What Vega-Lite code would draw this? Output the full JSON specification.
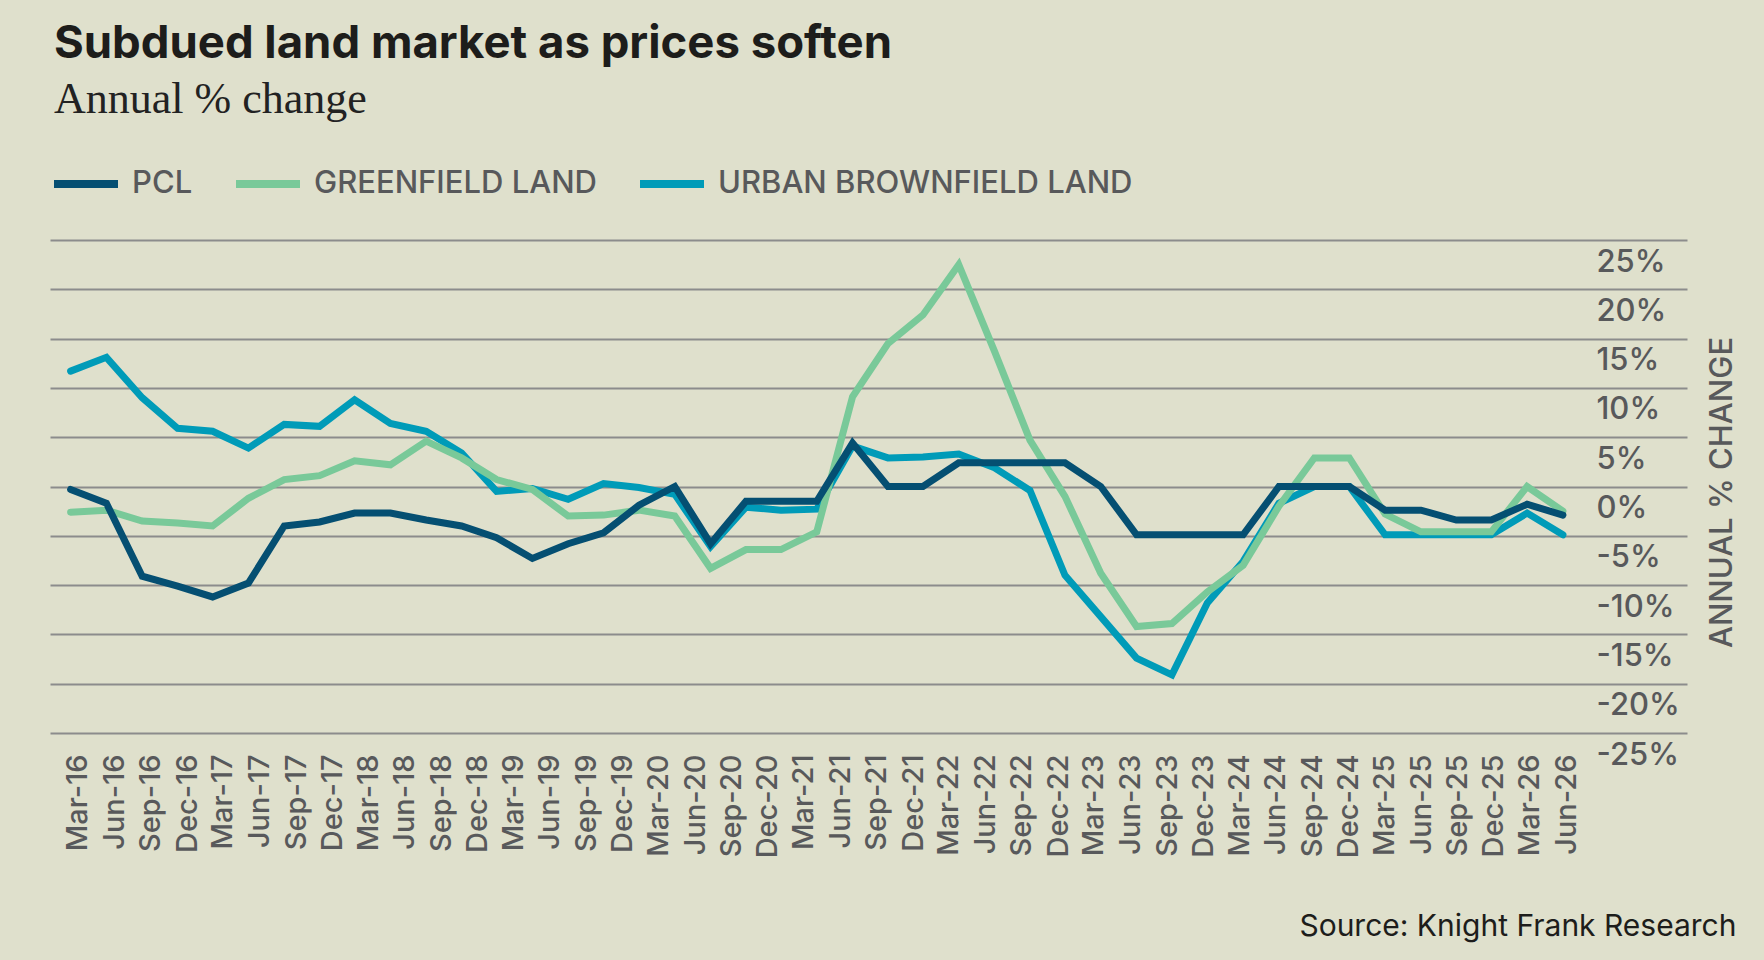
{
  "$schema": "https://vega.github.io/schema/vega-lite/v6.json",
  "background": "#dfe0cc",
  "autosize": {"type": "none"},
  "width": 1637,
  "height": 493,
  "padding": {"left": 50, "top": 240, "right": 77, "bottom": 227},
  "title": {
    "text": "Subdued land market as prices soften",
    "subtitle": "Annual % change",
    "anchor": "start",
    "frame": "group",
    "font": "Inter",
    "fontSize": 45.5,
    "fontWeight": 700,
    "color": "#1d1d1b",
    "subtitleFont": "Liberation Serif",
    "subtitleFontSize": 44,
    "subtitleColor": "#222222",
    "subtitlePadding": 11,
    "offset": 26,
    "dx": 4
  },
  "datasets": {
    "labels": [
      {"d": "2016-03-01"}, {"d": "2016-06-01"}, {"d": "2016-09-01"}, {"d": "2016-12-01"},
      {"d": "2017-03-01"}, {"d": "2017-06-01"}, {"d": "2017-09-01"}, {"d": "2017-12-01"},
      {"d": "2018-03-01"}, {"d": "2018-06-01"}, {"d": "2018-09-01"}, {"d": "2018-12-01"},
      {"d": "2019-03-01"}, {"d": "2019-06-01"}, {"d": "2019-09-01"}, {"d": "2019-12-01"},
      {"d": "2020-03-01"}, {"d": "2020-06-01"}, {"d": "2020-09-01"}, {"d": "2020-12-01"},
      {"d": "2021-03-01"}, {"d": "2021-06-01"}, {"d": "2021-09-01"}, {"d": "2021-12-01"},
      {"d": "2022-03-01"}, {"d": "2022-06-01"}, {"d": "2022-09-01"}, {"d": "2022-12-01"},
      {"d": "2023-03-01"}, {"d": "2023-06-01"}, {"d": "2023-09-01"}, {"d": "2023-12-01"},
      {"d": "2024-03-01"}, {"d": "2024-06-01"}, {"d": "2024-09-01"}, {"d": "2024-12-01"},
      {"d": "2025-03-01"}, {"d": "2025-06-01"}, {"d": "2025-09-01"}, {"d": "2025-12-01"},
      {"d": "2026-03-01"}, {"d": "2026-06-01"}
    ],
    "series": [
      {"q": "2016-03-01", "s": "URBAN BROWNFIELD LAND", "v": 11.7},
      {"q": "2016-06-01", "s": "URBAN BROWNFIELD LAND", "v": 13.1},
      {"q": "2016-09-01", "s": "URBAN BROWNFIELD LAND", "v": 9.0},
      {"q": "2016-12-01", "s": "URBAN BROWNFIELD LAND", "v": 5.9},
      {"q": "2017-03-01", "s": "URBAN BROWNFIELD LAND", "v": 5.6},
      {"q": "2017-06-01", "s": "URBAN BROWNFIELD LAND", "v": 3.9},
      {"q": "2017-09-01", "s": "URBAN BROWNFIELD LAND", "v": 6.3},
      {"q": "2017-12-01", "s": "URBAN BROWNFIELD LAND", "v": 6.1},
      {"q": "2018-03-01", "s": "URBAN BROWNFIELD LAND", "v": 8.8},
      {"q": "2018-06-01", "s": "URBAN BROWNFIELD LAND", "v": 6.4},
      {"q": "2018-09-01", "s": "URBAN BROWNFIELD LAND", "v": 5.6},
      {"q": "2018-12-01", "s": "URBAN BROWNFIELD LAND", "v": 3.4},
      {"q": "2019-03-01", "s": "URBAN BROWNFIELD LAND", "v": -0.5},
      {"q": "2019-06-01", "s": "URBAN BROWNFIELD LAND", "v": -0.2},
      {"q": "2019-09-01", "s": "URBAN BROWNFIELD LAND", "v": -1.3},
      {"q": "2019-12-01", "s": "URBAN BROWNFIELD LAND", "v": 0.3},
      {"q": "2020-03-01", "s": "URBAN BROWNFIELD LAND", "v": -0.1},
      {"q": "2020-06-01", "s": "URBAN BROWNFIELD LAND", "v": -0.8},
      {"q": "2020-09-01", "s": "URBAN BROWNFIELD LAND", "v": -6.1},
      {"q": "2020-12-01", "s": "URBAN BROWNFIELD LAND", "v": -2.1},
      {"q": "2021-03-01", "s": "URBAN BROWNFIELD LAND", "v": -2.4},
      {"q": "2021-06-01", "s": "URBAN BROWNFIELD LAND", "v": -2.3},
      {"q": "2021-09-01", "s": "URBAN BROWNFIELD LAND", "v": 4.1},
      {"q": "2021-12-01", "s": "URBAN BROWNFIELD LAND", "v": 2.9},
      {"q": "2022-03-01", "s": "URBAN BROWNFIELD LAND", "v": 3.0},
      {"q": "2022-06-01", "s": "URBAN BROWNFIELD LAND", "v": 3.3},
      {"q": "2022-09-01", "s": "URBAN BROWNFIELD LAND", "v": 1.9},
      {"q": "2022-12-01", "s": "URBAN BROWNFIELD LAND", "v": -0.4},
      {"q": "2023-03-01", "s": "URBAN BROWNFIELD LAND", "v": -9.0},
      {"q": "2023-06-01", "s": "URBAN BROWNFIELD LAND", "v": -13.2},
      {"q": "2023-09-01", "s": "URBAN BROWNFIELD LAND", "v": -17.4},
      {"q": "2023-12-01", "s": "URBAN BROWNFIELD LAND", "v": -19.1},
      {"q": "2024-03-01", "s": "URBAN BROWNFIELD LAND", "v": -11.8},
      {"q": "2024-06-01", "s": "URBAN BROWNFIELD LAND", "v": -7.6},
      {"q": "2024-09-01", "s": "URBAN BROWNFIELD LAND", "v": -1.7},
      {"q": "2024-12-01", "s": "URBAN BROWNFIELD LAND", "v": 0.0},
      {"q": "2025-03-01", "s": "URBAN BROWNFIELD LAND", "v": 0.0},
      {"q": "2025-06-01", "s": "URBAN BROWNFIELD LAND", "v": -4.9},
      {"q": "2025-09-01", "s": "URBAN BROWNFIELD LAND", "v": -4.9},
      {"q": "2025-12-01", "s": "URBAN BROWNFIELD LAND", "v": -4.9},
      {"q": "2026-03-01", "s": "URBAN BROWNFIELD LAND", "v": -4.9},
      {"q": "2026-06-01", "s": "URBAN BROWNFIELD LAND", "v": -2.7},
      {"q": "2026-09-01", "s": "URBAN BROWNFIELD LAND", "v": -4.9},
      {"q": "2016-03-01", "s": "GREENFIELD LAND", "v": -2.6},
      {"q": "2016-06-01", "s": "GREENFIELD LAND", "v": -2.4},
      {"q": "2016-09-01", "s": "GREENFIELD LAND", "v": -3.5},
      {"q": "2016-12-01", "s": "GREENFIELD LAND", "v": -3.7},
      {"q": "2017-03-01", "s": "GREENFIELD LAND", "v": -4.0},
      {"q": "2017-06-01", "s": "GREENFIELD LAND", "v": -1.2},
      {"q": "2017-09-01", "s": "GREENFIELD LAND", "v": 0.7},
      {"q": "2017-12-01", "s": "GREENFIELD LAND", "v": 1.1},
      {"q": "2018-03-01", "s": "GREENFIELD LAND", "v": 2.6},
      {"q": "2018-06-01", "s": "GREENFIELD LAND", "v": 2.2},
      {"q": "2018-09-01", "s": "GREENFIELD LAND", "v": 4.6},
      {"q": "2018-12-01", "s": "GREENFIELD LAND", "v": 2.9},
      {"q": "2019-03-01", "s": "GREENFIELD LAND", "v": 0.7},
      {"q": "2019-06-01", "s": "GREENFIELD LAND", "v": -0.3},
      {"q": "2019-09-01", "s": "GREENFIELD LAND", "v": -3.0},
      {"q": "2019-12-01", "s": "GREENFIELD LAND", "v": -2.9},
      {"q": "2020-03-01", "s": "GREENFIELD LAND", "v": -2.4},
      {"q": "2020-06-01", "s": "GREENFIELD LAND", "v": -3.0},
      {"q": "2020-09-01", "s": "GREENFIELD LAND", "v": -8.3},
      {"q": "2020-12-01", "s": "GREENFIELD LAND", "v": -6.4},
      {"q": "2021-03-01", "s": "GREENFIELD LAND", "v": -6.4},
      {"q": "2021-06-01", "s": "GREENFIELD LAND", "v": -4.6},
      {"q": "2021-09-01", "s": "GREENFIELD LAND", "v": 9.1},
      {"q": "2021-12-01", "s": "GREENFIELD LAND", "v": 14.5},
      {"q": "2022-03-01", "s": "GREENFIELD LAND", "v": 17.4},
      {"q": "2022-06-01", "s": "GREENFIELD LAND", "v": 22.5},
      {"q": "2022-09-01", "s": "GREENFIELD LAND", "v": 13.7},
      {"q": "2022-12-01", "s": "GREENFIELD LAND", "v": 4.7},
      {"q": "2023-03-01", "s": "GREENFIELD LAND", "v": -1.0},
      {"q": "2023-06-01", "s": "GREENFIELD LAND", "v": -8.8},
      {"q": "2023-09-01", "s": "GREENFIELD LAND", "v": -14.2},
      {"q": "2023-12-01", "s": "GREENFIELD LAND", "v": -13.9},
      {"q": "2024-03-01", "s": "GREENFIELD LAND", "v": -10.7},
      {"q": "2024-06-01", "s": "GREENFIELD LAND", "v": -8.0},
      {"q": "2024-09-01", "s": "GREENFIELD LAND", "v": -2.0},
      {"q": "2024-12-01", "s": "GREENFIELD LAND", "v": 2.9},
      {"q": "2025-03-01", "s": "GREENFIELD LAND", "v": 2.9},
      {"q": "2025-06-01", "s": "GREENFIELD LAND", "v": -2.8},
      {"q": "2025-09-01", "s": "GREENFIELD LAND", "v": -4.6},
      {"q": "2025-12-01", "s": "GREENFIELD LAND", "v": -4.6},
      {"q": "2026-03-01", "s": "GREENFIELD LAND", "v": -4.6},
      {"q": "2026-06-01", "s": "GREENFIELD LAND", "v": 0.0},
      {"q": "2026-09-01", "s": "GREENFIELD LAND", "v": -2.5},
      {"q": "2016-03-01", "s": "PCL", "v": -0.3},
      {"q": "2016-06-01", "s": "PCL", "v": -1.7},
      {"q": "2016-09-01", "s": "PCL", "v": -9.1},
      {"q": "2016-12-01", "s": "PCL", "v": -10.1},
      {"q": "2017-03-01", "s": "PCL", "v": -11.2},
      {"q": "2017-06-01", "s": "PCL", "v": -9.8},
      {"q": "2017-09-01", "s": "PCL", "v": -4.0},
      {"q": "2017-12-01", "s": "PCL", "v": -3.6},
      {"q": "2018-03-01", "s": "PCL", "v": -2.7},
      {"q": "2018-06-01", "s": "PCL", "v": -2.7},
      {"q": "2018-09-01", "s": "PCL", "v": -3.4},
      {"q": "2018-12-01", "s": "PCL", "v": -4.0},
      {"q": "2019-03-01", "s": "PCL", "v": -5.2},
      {"q": "2019-06-01", "s": "PCL", "v": -7.3},
      {"q": "2019-09-01", "s": "PCL", "v": -5.8},
      {"q": "2019-12-01", "s": "PCL", "v": -4.7},
      {"q": "2020-03-01", "s": "PCL", "v": -1.9},
      {"q": "2020-06-01", "s": "PCL", "v": 0.0},
      {"q": "2020-09-01", "s": "PCL", "v": -5.8},
      {"q": "2020-12-01", "s": "PCL", "v": -1.5},
      {"q": "2021-03-01", "s": "PCL", "v": -1.5},
      {"q": "2021-06-01", "s": "PCL", "v": -1.5},
      {"q": "2021-09-01", "s": "PCL", "v": 4.4},
      {"q": "2021-12-01", "s": "PCL", "v": 0.0},
      {"q": "2022-03-01", "s": "PCL", "v": 0.0},
      {"q": "2022-06-01", "s": "PCL", "v": 2.4},
      {"q": "2022-09-01", "s": "PCL", "v": 2.4},
      {"q": "2022-12-01", "s": "PCL", "v": 2.4},
      {"q": "2023-03-01", "s": "PCL", "v": 2.4},
      {"q": "2023-06-01", "s": "PCL", "v": 0.0},
      {"q": "2023-09-01", "s": "PCL", "v": -4.9},
      {"q": "2023-12-01", "s": "PCL", "v": -4.9},
      {"q": "2024-03-01", "s": "PCL", "v": -4.9},
      {"q": "2024-06-01", "s": "PCL", "v": -4.9},
      {"q": "2024-09-01", "s": "PCL", "v": 0.0},
      {"q": "2024-12-01", "s": "PCL", "v": 0.0},
      {"q": "2025-03-01", "s": "PCL", "v": 0.0},
      {"q": "2025-06-01", "s": "PCL", "v": -2.4},
      {"q": "2025-09-01", "s": "PCL", "v": -2.4},
      {"q": "2025-12-01", "s": "PCL", "v": -3.4},
      {"q": "2026-03-01", "s": "PCL", "v": -3.4},
      {"q": "2026-06-01", "s": "PCL", "v": -1.8},
      {"q": "2026-09-01", "s": "PCL", "v": -2.9}
    ]
  },
  "layer": [
    {
      "data": {"name": "labels"},
      "mark": {"type": "point", "opacity": 0},
      "encoding": {
        "x": {
          "field": "d",
          "type": "temporal",
          "scale": {
            "type": "utc",
            "domain": [
              {"year": 2015, "month": 12, "date": 22, "utc": true},
              {"year": 2027, "month": 4, "date": 1, "utc": true}
            ]
          },
          "axis": {
            "orient": "bottom",
            "values": [
              {"year": 2016, "month": 3, "date": 1, "utc": true}, {"year": 2016, "month": 6, "date": 1, "utc": true},
              {"year": 2016, "month": 9, "date": 1, "utc": true}, {"year": 2016, "month": 12, "date": 1, "utc": true},
              {"year": 2017, "month": 3, "date": 1, "utc": true}, {"year": 2017, "month": 6, "date": 1, "utc": true},
              {"year": 2017, "month": 9, "date": 1, "utc": true}, {"year": 2017, "month": 12, "date": 1, "utc": true},
              {"year": 2018, "month": 3, "date": 1, "utc": true}, {"year": 2018, "month": 6, "date": 1, "utc": true},
              {"year": 2018, "month": 9, "date": 1, "utc": true}, {"year": 2018, "month": 12, "date": 1, "utc": true},
              {"year": 2019, "month": 3, "date": 1, "utc": true}, {"year": 2019, "month": 6, "date": 1, "utc": true},
              {"year": 2019, "month": 9, "date": 1, "utc": true}, {"year": 2019, "month": 12, "date": 1, "utc": true},
              {"year": 2020, "month": 3, "date": 1, "utc": true}, {"year": 2020, "month": 6, "date": 1, "utc": true},
              {"year": 2020, "month": 9, "date": 1, "utc": true}, {"year": 2020, "month": 12, "date": 1, "utc": true},
              {"year": 2021, "month": 3, "date": 1, "utc": true}, {"year": 2021, "month": 6, "date": 1, "utc": true},
              {"year": 2021, "month": 9, "date": 1, "utc": true}, {"year": 2021, "month": 12, "date": 1, "utc": true},
              {"year": 2022, "month": 3, "date": 1, "utc": true}, {"year": 2022, "month": 6, "date": 1, "utc": true},
              {"year": 2022, "month": 9, "date": 1, "utc": true}, {"year": 2022, "month": 12, "date": 1, "utc": true},
              {"year": 2023, "month": 3, "date": 1, "utc": true}, {"year": 2023, "month": 6, "date": 1, "utc": true},
              {"year": 2023, "month": 9, "date": 1, "utc": true}, {"year": 2023, "month": 12, "date": 1, "utc": true},
              {"year": 2024, "month": 3, "date": 1, "utc": true}, {"year": 2024, "month": 6, "date": 1, "utc": true},
              {"year": 2024, "month": 9, "date": 1, "utc": true}, {"year": 2024, "month": 12, "date": 1, "utc": true},
              {"year": 2025, "month": 3, "date": 1, "utc": true}, {"year": 2025, "month": 6, "date": 1, "utc": true},
              {"year": 2025, "month": 9, "date": 1, "utc": true}, {"year": 2025, "month": 12, "date": 1, "utc": true},
              {"year": 2026, "month": 3, "date": 1, "utc": true}, {"year": 2026, "month": 6, "date": 1, "utc": true}
            ],
            "labelExpr": "utcFormat(datum.value, '%b-%y')",
            "domain": false,
            "ticks": false,
            "tickSize": 0,
            "grid": false,
            "labelAngle": -90,
            "labelPadding": 21,
            "labelOverlap": false,
            "labelFlush": false,
            "labelBound": false,
            "labelFont": "Inter",
            "labelFontSize": 29,
            "labelFontWeight": 500,
            "labelColor": "#58595b",
            "title": "Source: Knight Frank Research",
            "titleX": 1686,
            "titleY": 202,
            "titleAlign": "right",
            "titleBaseline": "alphabetic",
            "titleFont": "Inter",
            "titleFontSize": 30,
            "titleFontWeight": 400,
            "titleColor": "#1d1d1b"
          }
        }
      }
    },
    {
      "data": {"name": "series"},
      "encoding": {
        "x": {
          "field": "q",
          "type": "temporal",
          "scale": {
            "type": "utc",
            "domain": [
              {"year": 2016, "month": 1, "date": 8, "utc": true},
              {"year": 2027, "month": 7, "date": 17, "utc": true}
            ]
          },
          "axis": null
        },
        "y": {
          "field": "v",
          "type": "quantitative",
          "scale": {"domain": [-25, 25], "nice": false, "zero": false},
          "axis": {
            "orient": "right",
            "values": [-25, -20, -15, -10, -5, 0, 5, 10, 15, 20, 25],
            "labelExpr": "datum.value + '%'",
            "domain": false,
            "ticks": false,
            "tickSize": 0,
            "grid": true,
            "gridColor": "#8c8c8c",
            "gridWidth": 1.8,
            "labelPadding": -91,
            "labelAlign": "left",
            "labelBaseline": "middle",
            "labelOffset": 22,
            "labelBound": false,
            "labelFlush": false,
            "labelOverlap": false,
            "labelFont": "Inter",
            "labelFontSize": 31,
            "labelFontWeight": 500,
            "labelColor": "#58595b",
            "title": "ANNUAL % CHANGE",
            "titleAngle": -90,
            "titleX": 35,
            "titleY": 252,
            "titleAlign": "center",
            "titleBaseline": "middle",
            "titleFont": "Inter",
            "titleFontSize": 31,
            "titleFontWeight": 500,
            "titleColor": "#58595b"
          }
        },
        "color": {
          "field": "s",
          "type": "nominal",
          "scale": {
            "domain": ["PCL", "GREENFIELD LAND", "URBAN BROWNFIELD LAND"],
            "range": ["#054f72", "#79c999", "#009bb8"]
          },
          "legend": {
            "orient": "none",
            "legendX": 0,
            "legendY": -92,
            "direction": "horizontal",
            "title": null,
            "symbolType": "stroke",
            "symbolSize": 4096,
            "symbolStrokeWidth": 8,
            "labelFont": "Inter",
            "labelFontSize": 31,
            "labelFontWeight": 500,
            "labelColor": "#58595b",
            "labelOffset": 10,
            "labelLimit": 0,
            "columnPadding": 27
          }
        }
      },
      "layer": [
        {
          "transform": [{"filter": "datum.s === 'URBAN BROWNFIELD LAND'"}],
          "mark": {"type": "line", "strokeWidth": 7, "strokeCap": "round"}
        },
        {
          "transform": [{"filter": "datum.s === 'GREENFIELD LAND'"}],
          "mark": {"type": "line", "strokeWidth": 7, "strokeCap": "round"}
        },
        {
          "transform": [{"filter": "datum.s === 'PCL'"}],
          "mark": {"type": "line", "strokeWidth": 7, "strokeCap": "round"}
        }
      ]
    }
  ],
  "resolve": {"scale": {"x": "independent"}, "axis": {"x": "independent"}},
  "config": {
    "view": {"stroke": null}
  }
}
